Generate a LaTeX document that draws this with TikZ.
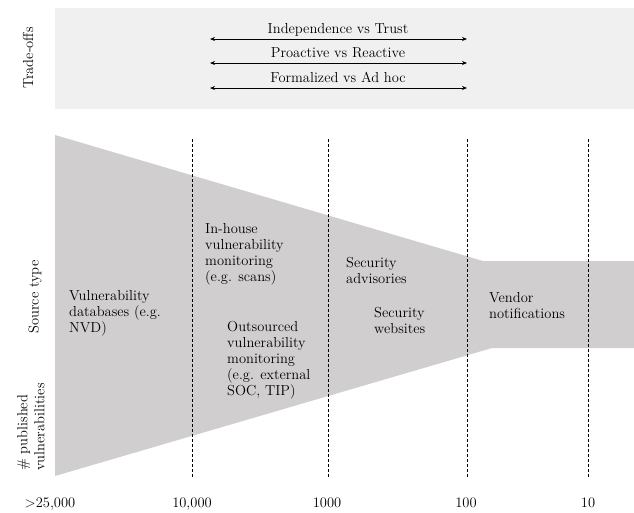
\documentclass[tikz,border=0pt]{standalone}
\usetikzlibrary{arrows.meta}
\definecolor{tradebg}{RGB}{240,240,240}
\definecolor{funnelc}{RGB}{208,206,207}
\tikzset{
  lbl/.style={inner sep=0pt, font=\fontsize{14.5}{16}\selectfont, align=left, anchor=base west},
  axlbl/.style={inner sep=0pt, font=\fontsize{14.5}{16}\selectfont, anchor=base},
  sidelbl/.style={inner sep=0pt, font=\fontsize{14.5}{17}\selectfont, rotate=90},
  tradearrow/.style={line width=0.8pt, {Stealth[length=5pt,width=4pt]}-{Stealth[length=5pt,width=4pt]}},
  divider/.style={line width=0.6pt, dash pattern=on 3pt off 2pt},
}
\begin{document}
\begin{tikzpicture}[x=1pt,y=-1pt]
\useasboundingbox (0,0) rectangle (634,512);
% trade-offs panel
\fill[tradebg] (55,8) rectangle (634,109);
\node[sidelbl] (tradeoffs) at (28,58) {Trade-offs};
\coordinate (a1l) at (210,39); \coordinate (a1r) at (467,39);
\coordinate (a2l) at (210,63); \coordinate (a2r) at (467,63);
\coordinate (a3l) at (210,88); \coordinate (a3r) at (467,88);
\draw[tradearrow] (a1l) -- (a1r);
\draw[tradearrow] (a2l) -- (a2r);
\draw[tradearrow] (a3l) -- (a3r);
\node[axlbl] (t1) at (338,33) {Independence vs Trust};
\node[axlbl] (t2) at (338,57) {Proactive vs Reactive};
\node[axlbl] (t3) at (338,82) {Formalized vs Ad hoc};
% funnel
\fill[funnelc] (55,135) -- (483,261) -- (634,261) -- (634,348) -- (492,348) -- (55,476) -- cycle;
% dividers
\draw[divider] (192,139) -- (192,477);
\draw[divider] (328,139) -- (328,477);
\draw[divider] (467,139) -- (467,477);
\draw[divider] (588,139) -- (588,477);
% side labels
\node[sidelbl] (srctype) at (35,297) {Source type};
\node[sidelbl, align=left] (numpub) at (31,427) {\# published\\vulnerabilities};
% source labels (anchored at the baseline of their last line)
\node[lbl] (vdb) at (69,332) {Vulnerability\\databases (e.g.\\NVD)};
\node[lbl] (inhouse) at (205,281) {In-house\\vulnerability\\monitoring\\(e.g. scans)};
\node[lbl] (outs) at (227,395) {Outsourced\\vulnerability\\monitoring\\(e.g. external\\SOC, TIP)};
\node[lbl] (secadv) at (346,283) {Security\\advisories};
\node[lbl] (secweb) at (374,333) {Security\\websites};
\node[lbl] (vendor) at (489,318) {Vendor\\notifications};
% axis labels
\node[axlbl] (x1) at (50,507) {>25,000};
\node[axlbl] (x2) at (192,507) {10,000};
\node[axlbl] (x3) at (327,507) {1000};
\node[axlbl] (x4) at (466,507) {100};
\node[axlbl] (x5) at (588,507) {10};
\end{tikzpicture}
\end{document}
